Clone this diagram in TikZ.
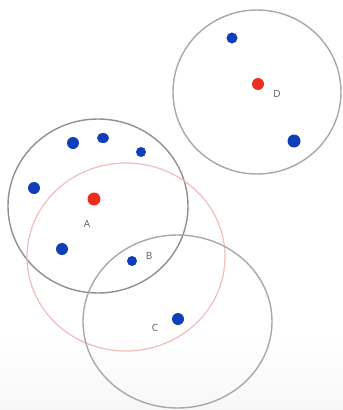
\documentclass[tikz,border=0pt]{standalone}
\usepackage{fontspec}
\setmainfont{Open Sans}
\usetikzlibrary{shapes.geometric}
\definecolor{dotblue}{RGB}{16,62,184}
\definecolor{dotred}{RGB}{236,46,30}
\definecolor{ringgray}{RGB}{168,168,168}
\definecolor{ringpink}{RGB}{240,188,188}
\begin{document}
\begin{tikzpicture}[x=1pt,y=-1pt,
  ring/.style={draw=ringgray, line width=1.4pt},
  pinkring/.style={draw=ringpink, line width=1.2pt},
  bluedot/.style={circle, fill=dotblue, inner sep=0pt, minimum size=11pt},
  reddot/.style={circle, fill=dotred, inner sep=0pt, minimum size=12pt},
  lbl/.style={font=\fontsize{10}{11}\selectfont, text=black!65, inner sep=0pt}]
\useasboundingbox (0,0) rectangle (343,410);
\shade[top color=white, bottom color=black!3] (0,335) rectangle (343,410);
% circles
\draw[ring] (257,92) ellipse [x radius=84, y radius=82];
\draw[ring, draw=ringgray!85!black] (98,206) ellipse [x radius=90, y radius=87];
\draw[pinkring] (126,257) ellipse [x radius=99, y radius=94];
\draw[ring] (177.5,321.5) ellipse [x radius=94.5, y radius=86.5];
% D
\node[reddot] (rD) at (258,84) {};
\node[lbl] (lD) at (277,94) {D};
\node[bluedot] (d1) at (232,38) {};
\node[bluedot, minimum size=13pt] (d2) at (294,141) {};
% A
\node[reddot, minimum size=13pt] (rA) at (94,199) {};
\node[lbl] (lA) at (87,224) {A};
\node[bluedot, minimum size=12pt] (a1) at (73,143) {};
\node[bluedot, ellipse, minimum width=12pt, minimum height=10pt] (a2) at (103,138) {};
\node[bluedot, minimum size=10pt] (a3) at (141,152) {};
\node[bluedot, minimum size=12pt] (a4) at (34,188) {};
\node[bluedot, minimum size=12pt] (a5) at (62,249) {};
% B
\node[bluedot, minimum size=10pt] (b1) at (132,261) {};
\node[lbl] (lB) at (149,256) {B};
% C
\node[bluedot, minimum size=12pt] (c1) at (178,319) {};
\node[lbl] (lC) at (155,328) {C};
\end{tikzpicture}
\end{document}
